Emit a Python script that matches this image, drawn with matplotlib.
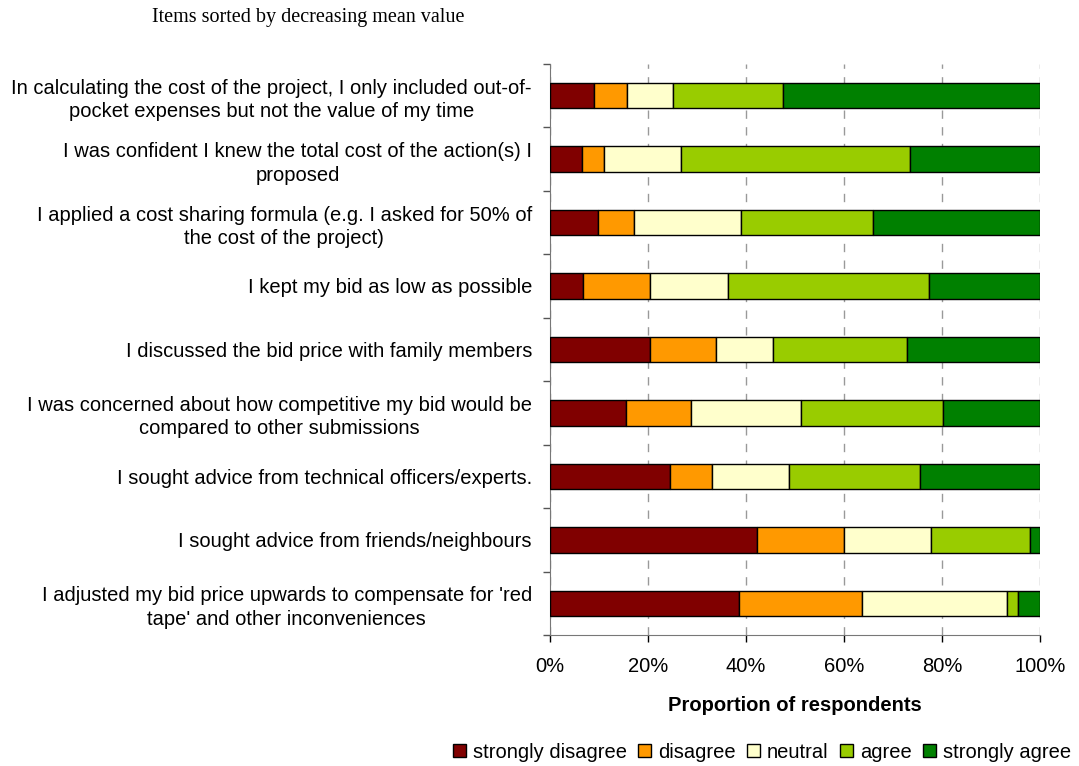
import numpy as np
import matplotlib
matplotlib.use("Agg")
import matplotlib.pyplot as plt

plt.rcParams['font.family'] = ['Liberation Sans', 'DejaVu Sans']

# items, top to bottom
items = [
    "In calculating the cost of the project, I only included out-of-\npocket expenses but not the value of my time",
    "I was confident I knew the total cost of the action(s) I\nproposed",
    "I applied a cost sharing formula (e.g. I asked for 50% of\nthe cost of the project)",
    "I kept my bid as low as possible",
    "I discussed the bid price with family members",
    "I was concerned about how competitive my bid would be\ncompared to other submissions",
    "I sought advice from technical officers/experts.",
    "I sought advice from friends/neighbours",
    "I adjusted my bid price upwards to compensate for 'red\ntape' and other inconveniences",
]

# shares in percent, same order as items
strongly_disagree = [8.9, 6.5, 9.7, 6.7, 20.3, 15.5, 24.4, 42.2, 38.6]
disagree          = [6.8, 4.6, 7.4, 13.6, 13.6, 13.3, 8.7, 17.7, 25.1]
neutral           = [9.3, 15.6, 21.8, 15.9, 11.5, 22.4, 15.6, 17.7, 29.5]
agree             = [22.6, 46.6, 27.0, 41.1, 27.4, 28.9, 26.8, 20.2, 2.2]
strongly_agree    = [52.4, 26.7, 34.1, 22.7, 27.2, 19.9, 24.5, 2.2, 4.6]

levels = ["strongly disagree", "disagree", "neutral", "agree", "strongly agree"]
colors = ["#800000", "#FF9900", "#FFFFCC", "#99CC00", "#008000"]
series = [strongly_disagree, disagree, neutral, agree, strongly_agree]

fs = 14.5

fig = plt.figure(figsize=(10.79, 7.66), dpi=100)
ax = fig.add_axes([0.5097, 0.171, 0.4546, 0.7456])

y = np.arange(len(items))[::-1]
left = np.zeros(len(items))
for name, vals, c in zip(levels, series, colors):
    vals = np.array(vals)
    ax.barh(y, vals, left=left, height=0.4, color=c, edgecolor='black',
            linewidth=1.0, label=name, zorder=3)
    left += vals

ax.set_xlim(0, 100)
ax.set_ylim(-0.5, len(items) - 0.5)

ax.set_xticks([0, 20, 40, 60, 80, 100])
ax.set_xticklabels(["0%", "20%", "40%", "60%", "80%", "100%"], fontsize=fs)
ax.tick_params(axis='x', direction='out', length=5, width=1, pad=11)

ax.set_yticks(np.arange(len(items) + 1) - 0.5)
ax.set_yticklabels([])
ax.tick_params(axis='y', which='major', direction='out', length=5, width=1, color='#555555')
ax.set_yticks(y, minor=True)
ax.set_yticklabels(items, minor=True, fontsize=fs, multialignment='center', linespacing=1.3)
ax.tick_params(axis='y', which='minor', length=0, pad=13)

ax.xaxis.grid(True, linestyle=(0, (6, 6)), color='#999999', linewidth=1, zorder=0)
for s in ['top', 'right']:
    ax.spines[s].set_visible(False)
ax.spines['left'].set_color('#777777')
ax.spines['bottom'].set_color('#777777')

ax.set_xlabel("Proportion of respondents", fontsize=fs, fontweight='bold', labelpad=14)

fig.text(0.141, 0.977, "Items sorted by decreasing mean value", fontsize=14.5,
         family='Liberation Serif', va='center')

fig.legend(loc='center right', bbox_to_anchor=(1.0, 0.018), ncol=5, frameon=False,
           fontsize=fs, handlelength=0.65, handleheight=0.65, handletextpad=0.35,
           columnspacing=0.55, borderaxespad=0.0)

fig.savefig("out.png", dpi=100)
